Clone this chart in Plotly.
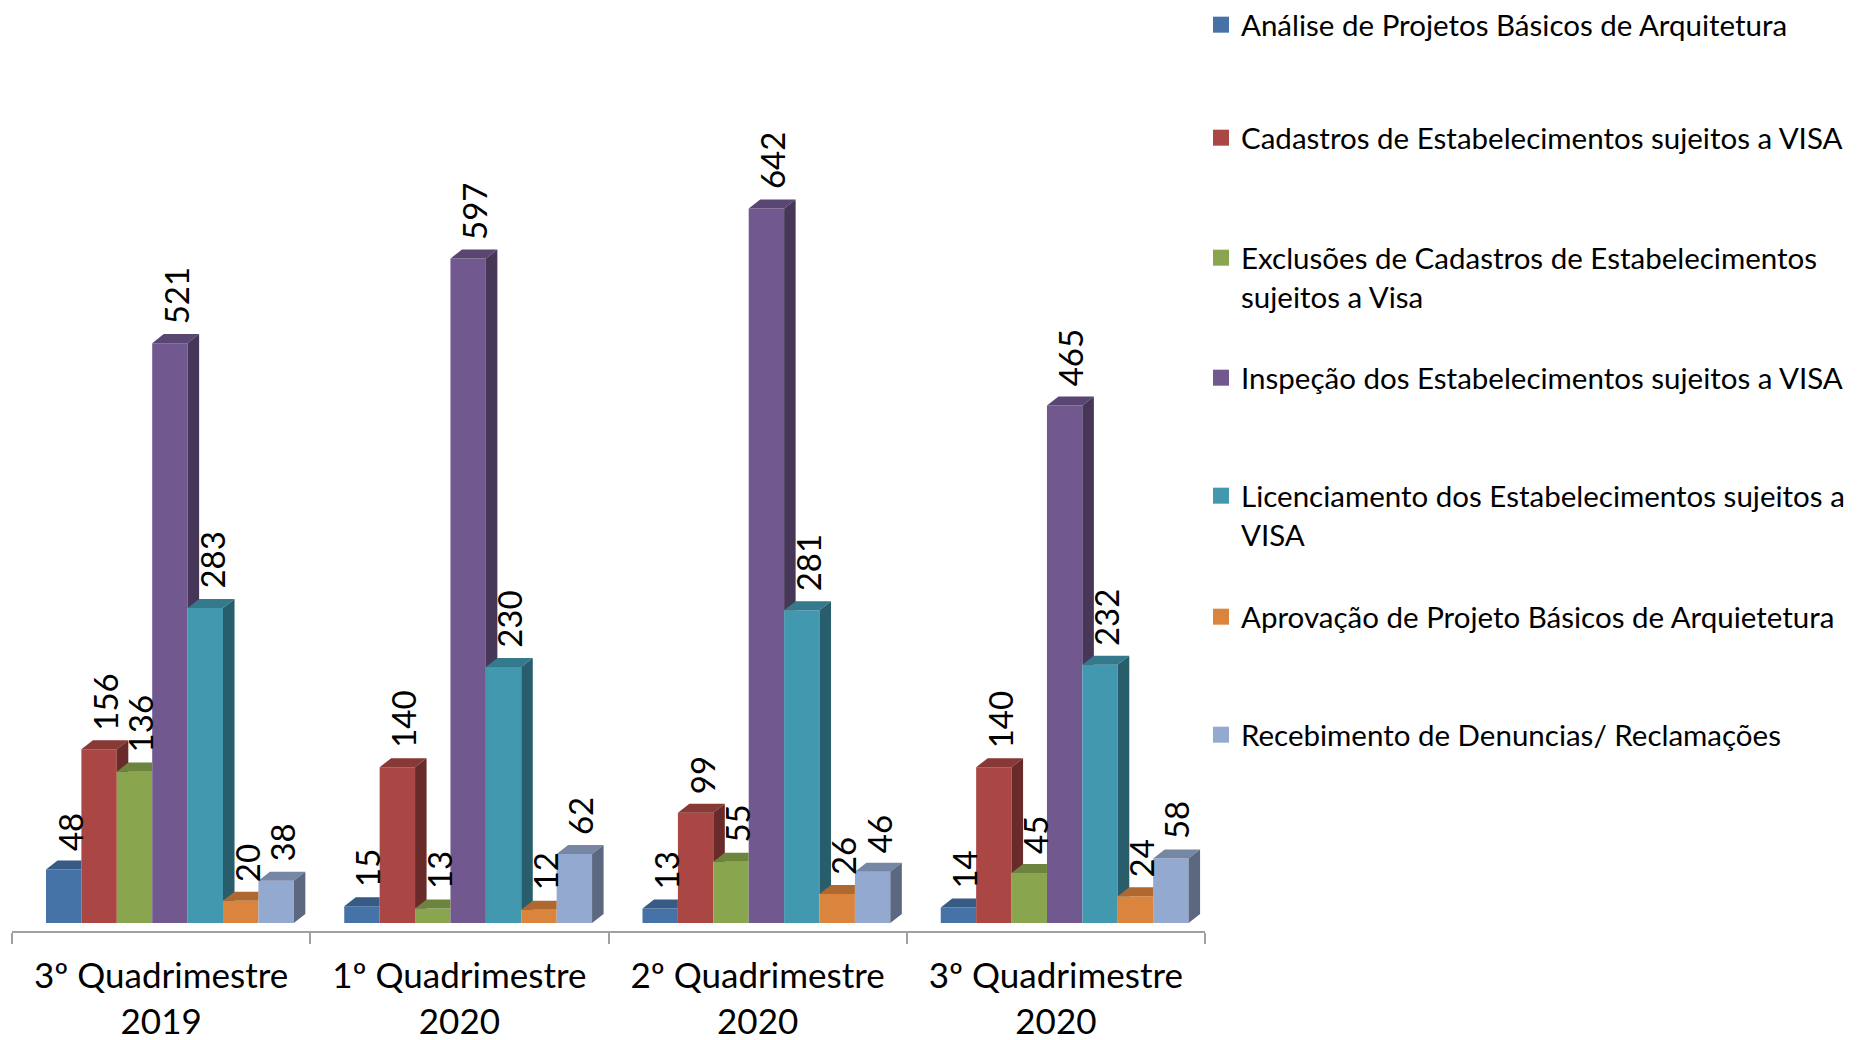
import plotly.graph_objects as go

categories = ["3º Quadrimestre<br>2019", "1º Quadrimestre<br>2020",
              "2º Quadrimestre<br>2020", "3º Quadrimestre<br>2020"]
series_names = [
    "Análise de Projetos Básicos de Arquitetura",
    "Cadastros de Estabelecimentos sujeitos a VISA",
    "Exclusões de Cadastros de Estabelecimentos<br>sujeitos a Visa",
    "Inspeção dos Estabelecimentos sujeitos a VISA",
    "Licenciamento dos Estabelecimentos sujeitos a<br>VISA",
    "Aprovação de Projeto Básicos de Arquietetura",
    "Recebimento de Denuncias/ Reclamações",
]
analise = [48, 15, 13, 14]
cadastros = [156, 140, 99, 140]
exclusoes = [136, 13, 55, 45]
inspecao = [521, 597, 642, 465]
licenciamento = [283, 230, 281, 232]
aprovacao = [20, 12, 26, 24]
recebimento = [38, 62, 46, 58]
series_values = [analise, cadastros, exclusoes, inspecao, licenciamento, aprovacao, recebimento]

front_colors = ["#4572A7", "#AA4643", "#89A54E", "#71588F", "#4198AF", "#DB843D", "#93A9CF"]


def shade(hexc, f):
    h = hexc.lstrip("#")
    r, g, b = (int(h[i:i + 2], 16) for i in (0, 2, 4))
    return "#%02X%02X%02X" % (int(r * f), int(g * f), int(b * f))


# geometry (in axis units)
W = 0.1187      # bar width (category units)
OFF = 0.114     # offset of first bar from category left boundary
DX = 0.0386     # depth, horizontal
DY = 8.1        # depth, vertical (value units)

FONT = "Lato"


def clip(poly, axis, c, keep_ge):
    out = []
    n = len(poly)
    if n == 0:
        return out
    idx = 0 if axis == "x" else 1

    def inside(p):
        return p[idx] >= c if keep_ge else p[idx] <= c

    def inter(p, q):
        t = (c - p[idx]) / (q[idx] - p[idx])
        return (p[0] + t * (q[0] - p[0]), p[1] + t * (q[1] - p[1]))

    for k in range(n):
        cur = poly[k]
        prev = poly[k - 1]
        if inside(cur):
            if not inside(prev):
                out.append(inter(prev, cur))
            out.append(cur)
        elif inside(prev):
            out.append(inter(prev, cur))
    return out


def add_poly(xs, ys, poly):
    if len(poly) < 3:
        return
    for p in poly:
        xs.append(p[0])
        ys.append(p[1])
    xs.append(poly[0][0])
    ys.append(poly[0][1])
    xs.append(None)
    ys.append(None)


fig = go.Figure()
n_series = len(series_values)


def legend_key(i):
    return "legend" if i == 0 else f"legend{i + 1}"


# front faces (bars)
for i, (name, vals) in enumerate(zip(series_names, series_values)):
    xpos = [j - 0.5 + OFF + W * (i + 0.5) for j in range(len(categories))]
    fig.add_trace(go.Bar(
        x=xpos, y=vals, width=W, name=name,
        marker=dict(color=front_colors[i], line=dict(width=0)),
        legendgroup=f"s{i}", showlegend=False,
        hovertemplate=name.replace("<br>", " ") + ": %{y}<extra></extra>",
    ))

# top and side faces
annotations = []
for i, vals in enumerate(series_values):
    tx, ty, sx, sy = [], [], [], []
    for j, v in enumerate(vals):
        xl = j - 0.5 + OFF + W * i
        xr = xl + W
        nxt = series_values[i + 1][j] if i + 1 < n_series else None
        top = [(xl, v), (xr, v), (xr + DX, v + DY), (xl + DX, v + DY)]
        side = [(xr, 0), (xr + DX, DY), (xr + DX, v + DY), (xr, v)]
        if nxt is None:
            add_poly(tx, ty, top)
            add_poly(sx, sy, side)
        else:
            add_poly(tx, ty, clip(top, "x", xr, False))
            add_poly(tx, ty, clip(clip(top, "x", xr, True), "y", nxt, True))
            add_poly(sx, sy, clip(side, "y", nxt, True))
        annotations.append(dict(
            x=xl + W / 2 + DX / 2, y=v + DY, xref="x", yref="y",
            text=str(v), textangle=-90, showarrow=False,
            xanchor="center", yanchor="bottom", yshift=8,
            font=dict(family=FONT, size=33, color="#000000"),
        ))
    fig.add_trace(go.Scatter(x=tx, y=ty, mode="lines", fill="toself",
                             fillcolor=shade(front_colors[i], 0.8),
                             line=dict(width=0, color=shade(front_colors[i], 0.8)),
                             legendgroup=f"s{i}", showlegend=False, hoverinfo="skip"))
    fig.add_trace(go.Scatter(x=sx, y=sy, mode="lines", fill="toself",
                             fillcolor=shade(front_colors[i], 0.62),
                             line=dict(width=0, color=shade(front_colors[i], 0.62)),
                             legendgroup=f"s{i}", showlegend=False, hoverinfo="skip"))

# legend entries (square swatches)
for i, name in enumerate(series_names):
    fig.add_trace(go.Scatter(
        x=[None], y=[None], mode="markers", name=name,
        marker=dict(symbol="square", size=18, color=front_colors[i]),
        legendgroup=f"s{i}", legend=legend_key(i), showlegend=True,
    ))

# layout (page body adds an 8px margin: screen = figure + 8)
PAGE = 8
FIG_W, FIG_H = 1862 - PAGE, 1040 - PAGE
PLOT_L, PLOT_R, PLOT_T, PLOT_B = 12 - PAGE, 1205 - PAGE, 100 - PAGE, 931 - PAGE
ZERO_Y = 923 - PAGE
H = PLOT_B - PLOT_T
PX_PER_UNIT = 1.113
ymin = -(PLOT_B - ZERO_Y) / PX_PER_UNIT
ymax = ymin + H / PX_PER_UNIT

layout_legends = {}
legend_centers = [27, 140, 260, 380, 498, 619, 737]
for i, cy in enumerate(legend_centers):
    layout_legends[legend_key(i)] = dict(
        x=(1193 - PLOT_L) / (PLOT_R - PLOT_L), xanchor="left",
        y=(PLOT_B - (cy - 36)) / H, yanchor="top",
        font=dict(family=FONT, size=29.5, color="#000000"),
        bgcolor="rgba(0,0,0,0)", valign="top", borderwidth=0,
    )

fig.update_layout(
    width=FIG_W, height=FIG_H,
    margin=dict(l=PLOT_L, r=FIG_W - PLOT_R, t=PLOT_T, b=FIG_H - PLOT_B, autoexpand=False),
    paper_bgcolor="white", plot_bgcolor="white",
    barmode="overlay", showlegend=True,
    annotations=annotations,
    font=dict(family=FONT, color="#000000"),
    xaxis=dict(
        range=[-0.5, 3.5], tickvals=[0, 1, 2, 3], ticktext=categories,
        ticks="", showgrid=False, zeroline=False,
        showline=True, linecolor="#A0A0A0", linewidth=2,
        tickfont=dict(family=FONT, size=35, color="#000000"),
        minor=dict(tickvals=[-0.5, 0.5, 1.5, 2.5, 3.5], ticks="outside",
                   ticklen=11, tickwidth=2, tickcolor="#A0A0A0", showgrid=False),
        ticklabelstandoff=13,
    ),
    yaxis=dict(range=[ymin, ymax], visible=False, showgrid=False, zeroline=False),
    **layout_legends,
)

fig.write_html("out.html")
